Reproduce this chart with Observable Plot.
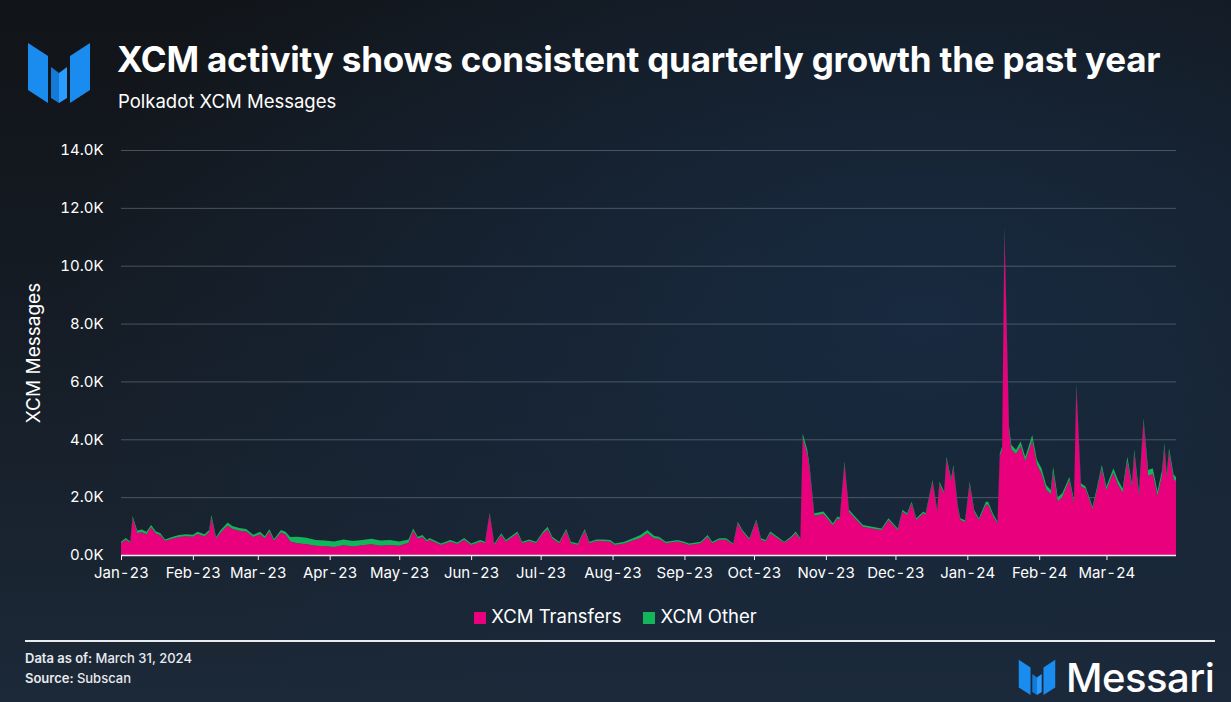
<!DOCTYPE html>
<html>
<head>
<meta charset="utf-8">
<script src="https://cdn.jsdelivr.net/npm/d3@7"></script>
<script src="https://cdn.jsdelivr.net/npm/@observablehq/plot@0.6"></script>
<style>
  html, body { margin: 0; padding: 0; }
  body {
    width: 1231px; height: 702px; overflow: hidden; position: relative;
    font-family: Inter, "Noto Sans", sans-serif; color: #fff;
    background: radial-gradient(ellipse 70% 80% at 75% 45%, #182a40 0%, rgba(24,42,64,0) 100%),
                linear-gradient(180deg, #111418 0%, #151c25 45%, #1c2938 100%);
  }
  #title { position: absolute; left: 117px; top: 40px; font-size: 35px; line-height: 1.1; font-weight: 700; letter-spacing: -0.2px; white-space: nowrap; }
  #subtitle { position: absolute; left: 118px; top: 90px; font-size: 18.5px; font-weight: 400; }
  #logo { position: absolute; left: 24px; top: 40px; }
  #chart { position: absolute; left: 0; top: 130px; }
  #legend { position: absolute; top: 605px; left: 0; width: 1231px; display: flex; justify-content: center; gap: 22px; font-size: 18.5px; box-sizing: border-box; }
  #legend span.sw { display: inline-block; width: 12px; height: 12px; margin-right: 5px; vertical-align: -1px; }
  #rule { position: absolute; left: 25px; top: 640px; width: 1190px; height: 2px; background: #e9ecef; }
  #foot1 { position: absolute; left: 25px; top: 650px; font-size: 13px; font-weight: 600; color: #e8eaee; }
  #foot2 { position: absolute; left: 25px; top: 670px; font-size: 13px; font-weight: 600; color: #e8eaee; }
  #brand { position: absolute; left: 1016px; top: 658px; height: 40px; display: flex; align-items: center; }
  #brand .word { font-size: 40px; line-height: 1; font-weight: 500; margin-left: 8px; letter-spacing: -0.5px; }
</style>
</head>
<body>
<svg id="logo" width="70" height="68" viewBox="0 0 70 68">
  <polygon points="4,3 24,16 24,63 4,50" fill="#1a8cf0"/>
  <polygon points="27,27 35,33 35,63 27,58" fill="#1579d6"/>
  <polygon points="43,27 35,33 35,63 43,58" fill="#2a9cff"/>
  <polygon points="66,3 46,16 46,63 66,50" fill="#1a8cf0"/>
</svg>
<div id="title">XCM activity shows consistent quarterly growth the past year</div>
<div id="subtitle">Polkadot XCM Messages</div>
<div id="chart"></div>
<div id="legend"></div>
<div id="rule"></div>
<div id="foot1">Data as of: <span style="font-weight:500">March 31, 2024</span></div>
<div id="foot2">Source: <span style="font-weight:500">Subscan</span></div>
<div id="brand">
  <svg width="42" height="40" viewBox="0 0 70 68">
    <polygon points="4,3 24,16 24,63 4,50" fill="#1a8cf0"/>
    <polygon points="27,27 35,33 35,63 27,58" fill="#1579d6"/>
    <polygon points="43,27 35,33 35,63 43,58" fill="#2a9cff"/>
    <polygon points="66,3 46,16 46,63 66,50" fill="#1a8cf0"/>
  </svg>
  <span class="word">Messari</span>
</div>
<script>
// ---- Data (days since 2023-01-01) ----
const dayIndex = [0,2,4,5,7,9,11,13,15,17,19,22,25,28,31,33,36,38,39,41,43,46,48,51,54,57,60,62,64,66,69,71,73,76,80,84,88,92,96,100,104,108,112,116,120,124,126,128,130,132,133,138,142,145,148,151,155,157,159,161,164,166,171,173,176,179,182,184,186,189,192,194,197,200,202,205,208,211,213,217,221,224,227,230,232,235,240,243,245,250,253,255,258,261,264,266,268,271,274,276,278,280,283,286,289,291,293,294,296,297,299,303,307,309,310,312,314,316,320,324,328,331,335,337,339,341,343,346,347,350,352,353,355,356,358,359,361,362,364,366,368,370,373,374,376,378,379,380,381,383,384,386,388,390,393,395,397,399,401,402,404,406,409,411,412,414,416,419,421,423,425,428,430,432,434,436,437,439,441,443,445,447,449,450,451,452,454,455];
const transfers = [410,530,420,1290,760,790,720,960,740,680,480,560,620,650,630,730,650,790,1290,560,780,1020,910,840,810,620,720,580,810,490,780,710,470,410,370,320,300,280,340,290,340,370,320,350,320,420,840,560,620,460,530,350,460,380,530,350,460,410,1410,350,690,460,750,410,480,410,750,890,570,410,840,410,350,840,410,480,480,460,350,400,510,590,750,570,560,410,470,410,350,410,630,410,530,530,360,1100,815,530,1180,530,470,750,586,420,586,750,530,4050,3480,2930,1360,1420,1030,1260,1230,3150,1490,1310,980,920,860,1210,860,1500,1380,1780,1210,1440,1380,2530,1500,2460,2120,3320,2570,3030,1580,1210,1140,2450,1480,1210,1740,1740,1360,1090,3410,3640,11200,4280,3650,3490,3770,3250,3970,3130,2820,2270,2100,2870,1850,2010,2600,1800,5810,2380,2290,1590,2270,2990,2250,2850,2440,2160,3250,2360,3520,2060,4620,2740,2800,2050,2760,3740,2700,3570,2620,2550];
const other = [50,60,50,60,90,90,80,80,80,70,60,60,70,70,70,70,70,70,90,60,80,100,90,90,90,80,80,70,80,60,80,90,150,220,230,200,200,190,200,190,180,190,180,170,150,120,80,70,70,60,60,50,60,50,60,50,60,50,50,50,60,60,60,50,60,50,60,90,60,50,60,50,50,60,50,60,60,60,50,60,80,100,110,90,70,50,50,50,50,50,60,50,50,50,40,50,50,50,50,50,50,60,50,40,50,60,50,150,150,120,80,80,70,70,70,80,70,70,60,60,60,60,60,60,60,60,60,60,60,60,60,70,70,80,80,80,70,60,60,80,70,60,100,100,80,60,100,100,150,150,150,150,150,150,180,160,180,150,150,180,150,130,100,100,120,100,80,80,100,120,120,150,150,140,150,120,120,140,100,200,200,150,180,120,120,120,150,150];
const seriesNames = ["XCM Transfers", "XCM Other"];
const seriesColors = ["#e8007d", "#14b45a"];
const yTicks = [0, 2000, 4000, 6000, 8000, 10000, 12000, 14000];

const start = new Date(Date.UTC(2023, 0, 1));
const end = new Date(Date.UTC(2024, 2, 31));
const rows = [];
dayIndex.forEach((d, i) => {
  const date = d3.utcDay.offset(start, d);
  rows.push({date, series: seriesNames[0], value: transfers[i]});
  rows.push({date, series: seriesNames[1], value: other[i]});
});
const monthTicks = d3.utcMonth.range(start, end);

const chart = Plot.plot({
  width: 1231,
  height: 470,
  marginLeft: 121,
  marginRight: 55,
  marginTop: 20,
  marginBottom: 45,
  style: {background: "transparent", color: "#fff", fontFamily: "Inter, 'Noto Sans', sans-serif"},
  x: {type: "utc", domain: [start, end]},
  y: {domain: [0, 14000]},
  color: {domain: seriesNames, range: seriesColors},
  marks: [
    Plot.gridY(yTicks.filter(t => t > 0), {stroke: "#758090", strokeOpacity: 0.55, strokeWidth: 1}),
    Plot.areaY(rows, {x: "date", y: "value", fill: "series", order: seriesNames, curve: "linear"}),
    Plot.ruleY([0], {stroke: "#f2f2f2", strokeWidth: 1.5}),
    Plot.axisX({ticks: monthTicks, tickFormat: d3.utcFormat("%b-%y"), tickSize: 5, tickPadding: 7, stroke: "#f2f2f2", fontSize: 15, fill: "#fff", label: null}),
    Plot.axisY({ticks: yTicks, tickFormat: d => (d / 1000).toFixed(1) + "K", tickSize: 0, tickPadding: 18, fontSize: 15, fill: "#fff", label: null}),
    Plot.text(["XCM Messages"], {frameAnchor: "left", textAnchor: "middle", dx: -88, rotate: -90, fontSize: 19, fill: "#fff"})
  ]
});
document.getElementById("chart").appendChild(chart);

const legend = document.getElementById("legend");
seriesNames.forEach((n, i) => {
  const item = document.createElement("div");
  item.innerHTML = `<span class="sw" style="background:${seriesColors[i]}"></span>${n}`;
  legend.appendChild(item);
});
</script>
</body>
</html>
